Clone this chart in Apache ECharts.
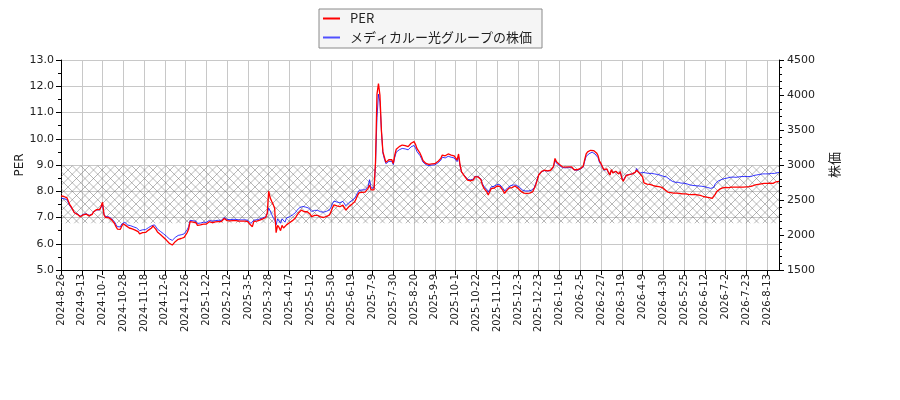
<!DOCTYPE html>
<html>
<head>
<meta charset="utf-8">
<script src="https://cdn.jsdelivr.net/npm/echarts@6/dist/echarts.min.js"></script>
<style>html,body{margin:0;padding:0;background:#fff;}#c{width:900px;height:400px;}</style>
</head>
<body>
<div id="c"></div>
<script>
// x-axis tick labels (one every 14 data points)
const tickLabels = ['2024-8-26','2024-9-13','2024-10-7','2024-10-28','2024-11-18','2024-12-6','2024-12-26','2025-1-22','2025-2-12','2025-3-5','2025-3-28','2025-4-17','2025-5-12','2025-5-30','2025-6-19','2025-7-9','2025-7-30','2025-8-20','2025-9-9','2025-10-1','2025-10-22','2025-11-12','2025-12-3','2025-12-23','2026-1-16','2026-2-5','2026-2-27','2026-3-19','2026-4-9','2026-4-30','2026-5-25','2026-6-12','2026-7-2','2026-7-23','2026-8-13'];

// PER (left axis)
const perValues = [
7.82,7.82,7.8,7.8,7.75,7.68,7.48,7.4,7.29,7.18,7.16,7.12,7.06,7.03,
7.05,7.1,7.16,7.13,7.2,7.06,7.03,7.12,7.22,7.28,7.3,7.33,7.3,7.42,
7.58,7.1,7.0,6.98,7.0,6.97,6.92,6.86,6.78,6.66,6.56,6.52,6.55,6.68,
6.76,6.75,6.68,6.63,6.6,6.6,6.57,6.55,6.52,6.5,6.46,6.38,6.33,6.42,
6.38,6.43,6.5,6.52,6.55,6.6,6.68,6.64,6.55,6.45,6.4,6.35,6.3,6.25,
6.2,6.14,6.08,6.02,5.97,5.95,6.0,6.08,6.14,6.17,6.2,6.2,6.22,6.24,
6.3,6.42,6.55,6.84,6.8,6.82,6.8,6.8,6.7,6.66,6.72,6.77,6.75,6.74,
6.75,6.8,6.84,6.82,6.8,6.82,6.83,6.82,6.84,6.85,6.84,6.9,6.96,6.92,
6.88,6.9,6.87,6.87,6.88,6.86,6.88,6.87,6.86,6.84,6.86,6.85,6.86,6.88,
6.84,6.76,6.7,6.65,6.85,6.87,6.86,6.85,6.9,6.92,6.95,6.98,7.0,7.15,
8.0,7.75,7.62,7.5,7.35,6.42,6.7,6.62,6.5,6.7,6.6,6.55,6.72,6.65,
6.8,6.84,6.88,6.92,6.98,7.08,7.16,7.2,7.28,7.25,7.22,7.22,7.22,7.18,
7.12,7.03,6.98,7.08,7.1,7.08,7.1,7.02,6.98,7.0,7.05,7.04,7.08,7.1,
7.22,7.37,7.48,7.46,7.44,7.41,7.41,7.44,7.47,7.41,7.28,7.35,7.41,7.48,
7.5,7.52,7.6,7.72,7.85,7.95,7.98,7.96,7.95,7.97,7.96,8.11,8.24,8.05,
8.09,8.05,9.1,11.7,12.1,11.65,10.3,9.5,9.3,9.1,9.15,9.2,9.25,9.2,
9.06,9.38,9.6,9.66,9.7,9.74,9.76,9.7,9.74,9.8,9.7,9.76,9.83,9.76,
9.89,9.78,9.62,9.55,9.45,9.32,9.17,9.1,9.06,9.04,9.02,9.05,9.04,9.06,
9.05,9.08,9.13,9.18,9.25,9.38,9.44,9.35,9.4,9.42,9.42,9.38,9.36,9.35,
9.3,9.19,9.42,9.0,8.74,8.76,8.58,8.52,8.42,8.35,8.4,8.38,8.43,8.55,
8.57,8.55,8.55,8.45,8.25,8.12,8.05,7.98,7.86,7.98,8.1,8.11,8.12,8.16,
8.2,8.24,8.18,8.12,8.02,7.92,8.0,8.05,8.12,8.15,8.14,8.18,8.2,8.16,
8.12,8.08,8.0,7.96,7.93,7.92,7.92,7.92,7.93,7.95,7.98,8.05,8.24,8.42,
8.62,8.66,8.76,8.74,8.8,8.82,8.78,8.8,8.8,8.84,8.95,9.25,9.12,9.07,
9.02,8.98,8.93,8.9,8.92,8.88,8.93,8.97,8.93,8.87,8.82,8.8,8.82,8.8,
8.86,8.83,8.95,9.2,9.42,9.5,9.53,9.56,9.6,9.55,9.52,9.46,9.36,9.15,
9.06,8.93,8.82,8.75,8.85,8.72,8.62,8.82,8.7,8.68,8.76,8.7,8.66,8.75,
8.5,8.38,8.45,8.6,8.58,8.63,8.62,8.66,8.68,8.72,8.8,8.77,8.68,8.7,
8.55,8.32,8.28,8.27,8.26,8.26,8.24,8.22,8.2,8.19,8.15,8.18,8.16,8.15,
8.1,8.06,8.02,7.97,7.95,7.95,7.94,7.93,7.92,7.93,7.93,7.92,7.9,7.9,
7.91,7.9,7.88,7.88,7.89,7.87,7.88,7.88,7.87,7.86,7.86,7.84,7.82,7.8,
7.79,7.78,7.77,7.76,7.74,7.73,7.78,7.88,7.99,8.04,8.08,8.11,8.13,8.14,
8.15,8.15,8.14,8.15,8.16,8.17,8.16,8.15,8.16,8.15,8.16,8.17,8.16,8.17,
8.17,8.18,8.18,8.19,8.2,8.22,8.24,8.25,8.26,8.28,8.28,8.3,8.3,8.29,
8.3,8.29,8.31,8.3,8.3,8.33,8.36,8.35,8.38
];

// Stock price (right axis)
const priceValues = [
2526,2526,2519,2519,2503,2481,2416,2390,2355,2319,2313,2300,2281,2271,
2277,2294,2313,2303,2326,2281,2271,2300,2332,2352,2358,2368,2358,2397,
2430,2294,2261,2255,2261,2252,2235,2216,2190,2152,2119,2106,2116,2158,
2184,2181,2158,2142,2132,2132,2123,2116,2106,2100,2087,2061,2045,2074,
2061,2077,2100,2106,2116,2132,2158,2145,2116,2084,2068,2052,2036,2019,
2003,1984,1965,1945,1929,1923,1939,1965,1984,1994,2003,2003,2010,2016,
2036,2074,2116,2210,2197,2203,2197,2197,2165,2152,2171,2187,2181,2177,
2181,2197,2210,2203,2197,2203,2206,2203,2210,2213,2210,2229,2248,2235,
2223,2229,2219,2219,2223,2216,2223,2219,2216,2210,2216,2213,2216,2223,
2210,2184,2165,2148,2213,2219,2216,2213,2229,2235,2245,2255,2261,2310,
2385,2344,2295,2250,2220,2145,2231,2205,2168,2231,2205,2183,2243,2220,
2260,2273,2286,2299,2319,2352,2379,2392,2418,2408,2398,2398,2398,2385,
2365,2336,2319,2352,2359,2352,2359,2332,2319,2326,2342,2339,2352,2359,
2398,2448,2484,2478,2471,2461,2461,2471,2481,2461,2418,2441,2461,2484,
2491,2497,2524,2563,2606,2639,2649,2643,2639,2646,2643,2692,2790,2672,
2685,2672,3000,3675,4012,3900,3488,3169,3085,3019,3035,3052,3068,3052,
3006,3111,3184,3204,3217,3230,3237,3217,3230,3250,3217,3237,3260,3237,
3279,3243,3190,3167,3134,3091,3042,3019,3006,2999,2992,3002,2999,3006,
3002,3012,3029,3045,3068,3111,3131,3101,3118,3124,3124,3111,3105,3101,
3085,3048,3124,2986,2900,2907,2847,2827,2794,2771,2788,2781,2798,2837,
2844,2837,2837,2804,2738,2695,2672,2649,2610,2649,2689,2692,2695,2709,
2722,2735,2715,2695,2662,2629,2656,2672,2695,2705,2702,2715,2722,2709,
2695,2682,2656,2643,2633,2629,2629,2629,2633,2639,2649,2672,2735,2794,
2860,2874,2907,2900,2920,2926,2913,2920,2920,2933,2969,3068,3025,3009,
2992,2979,2963,2953,2959,2946,2963,2976,2963,2943,2926,2920,2926,2920,
2940,2930,2969,3052,3124,3151,3161,3171,3184,3167,3157,3138,3105,3035,
3006,2963,2926,2903,2936,2893,2860,2926,2887,2880,2907,2887,2874,2903,
2821,2781,2804,2854,2847,2864,2860,2874,2880,2893,2950,2910,2880,2887,
2895,2895,2888,2884,2880,2884,2880,2876,2873,2873,2865,2861,2854,2850,
2839,2835,2831,2820,2798,2783,2768,2756,2753,2756,2753,2749,2741,2738,
2741,2738,2730,2719,2715,2719,2708,2704,2704,2700,2700,2700,2696,2689,
2689,2681,2678,2670,2666,2670,2681,2730,2756,2771,2783,2790,2798,2805,
2809,2813,2820,2824,2824,2828,2831,2824,2828,2831,2828,2835,2831,2835,
2831,2835,2839,2835,2843,2850,2854,2858,2861,2865,2873,2873,2869,2873,
2876,2873,2880,2880,2884,2880,2888,2891,2895
];

// hatched band on the PER axis
const bandRange = [6.78, 8.97];

const seriesNames = ['PER', 'メディカルー光グループの株価'];
const seriesColors = ['#ff0000', '#0000ff'];
const tickStep = 14;

// hatch pattern
const pat = document.createElement('canvas');
pat.width = 17; pat.height = 17;
const pc = pat.getContext('2d');
pc.strokeStyle = 'rgba(105,105,105,0.6)';
pc.lineWidth = 0.8;
pc.beginPath();
for (let o = -17; o <= 17; o += 8.5) {
  pc.moveTo(o, 0); pc.lineTo(o + 17, 17);
  pc.moveTo(o, 17); pc.lineTo(o + 17, 0);
}
pc.stroke();

const chart = echarts.init(document.getElementById('c'), null, {renderer: 'canvas'});
const font = 'DejaVu Sans';
const lastIdx = perValues.length - 1;

chart.setOption({
  animation: false,
  backgroundColor: '#fff',
  grid: {left: 61, right: 121, top: 60, bottom: 130, containLabel: false},
  legend: {
    left: 319, top: 9,
    orient: 'vertical',
    icon: 'rect',
    itemWidth: 17, itemHeight: 2, itemGap: 4,
    padding: [2, 10, 3, 4],
    backgroundColor: '#f5f5f5',
    borderColor: '#8a8a8a', borderWidth: 1, borderRadius: 0,
    textStyle: {fontFamily: 'Noto Sans CJK JP', fontSize: 13, lineHeight: 15, color: '#222', padding: [0, 0, 0, 5]},
    data: [
      {name: seriesNames[0], itemStyle: {color: seriesColors[0]}},
      {name: seriesNames[1], itemStyle: {color: '#5050ff'}}
    ]
  },
  xAxis: {
    type: 'value', min: 0, max: lastIdx, interval: tickStep,
    axisLine: {show: true, lineStyle: {color: '#000', width: 1}},
    axisTick: {show: true, length: 5, lineStyle: {color: '#000'}},
    axisLabel: {
      rotate: 90, fontSize: 10, fontFamily: font, color: '#222', margin: 4,
      showMaxLabel: false,
      formatter: v => (v % tickStep === 0 && tickLabels[v / tickStep]) ? tickLabels[v / tickStep] : ''
    },
    splitLine: {show: true, lineStyle: {color: '#c8c8c8', width: 1}}
  },
  yAxis: [
    {
      type: 'value', min: 5, max: 13, interval: 1, position: 'left',
      name: 'PER', nameLocation: 'middle', nameGap: 35, nameMoveOverlap: false,
      nameTextStyle: {fontFamily: font, fontSize: 12, color: '#222'},
      axisLine: {show: true, lineStyle: {color: '#000'}},
      axisTick: {show: true, length: 5, lineStyle: {color: '#000'}},
      minorTick: {show: true, splitNumber: 2, length: 3, lineStyle: {color: '#000'}},
      axisLabel: {formatter: v => v.toFixed(1), fontSize: 11, fontFamily: font, color: '#222', margin: 7},
      splitLine: {show: true, lineStyle: {color: '#c8c8c8', width: 1}}
    },
    {
      type: 'value', min: 1500, max: 4500, interval: 500, position: 'right',
      name: '株価', nameLocation: 'middle', nameGap: 49, nameRotate: 90, nameMoveOverlap: false,
      nameTextStyle: {fontFamily: 'Noto Sans CJK JP', fontSize: 13, color: '#222'},
      axisLine: {show: true, lineStyle: {color: '#000'}},
      axisTick: {show: true, length: 5, lineStyle: {color: '#000'}},
      minorTick: {show: true, splitNumber: 5, length: 3, lineStyle: {color: '#000'}},
      axisLabel: {formatter: v => String(v), fontSize: 11, fontFamily: font, color: '#222', margin: 8},
      splitLine: {show: false}
    }
  ],
  series: [
    {
      name: seriesNames[1], type: 'line', yAxisIndex: 1, z: 2,
      symbol: 'none', showSymbol: false,
      lineStyle: {color: seriesColors[1], width: 0.8},
      itemStyle: {color: '#5050ff'},
      data: priceValues.map((v, i) => [i, v])
    },
    {
      name: seriesNames[0], type: 'line', yAxisIndex: 0, z: 3,
      symbol: 'none', showSymbol: false,
      lineStyle: {color: seriesColors[0], width: 1.3},
      itemStyle: {color: seriesColors[0]},
      data: perValues.map((v, i) => [i, v]),
      markArea: {
        silent: true,
        itemStyle: {color: {image: pat, repeat: 'repeat'}, borderWidth: 0},
        data: [[{yAxis: bandRange[0], x: 61}, {yAxis: bandRange[1], x: 779}]]
      }
    }
  ]
});
</script>
</body>
</html>
